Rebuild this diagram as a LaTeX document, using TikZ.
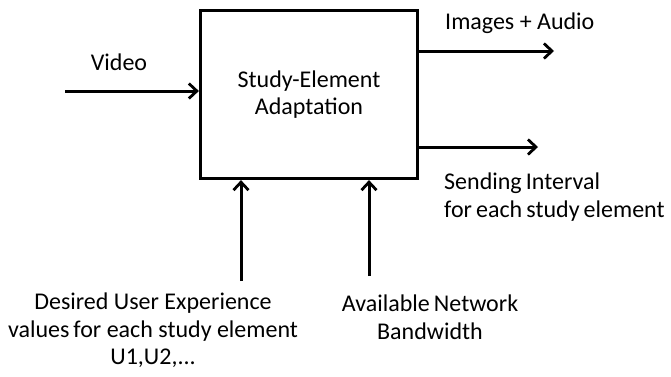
\documentclass[tikz,border=0pt]{standalone}
\usepackage{fontspec}
\setmainfont{Carlito}
\usetikzlibrary{arrows.meta}
% narrow word gap used in the output label
\newcommand\nsp{\hspace{0.17em}}
\begin{document}
\begin{tikzpicture}[x=1pt,y=-1pt,
  lbl/.style={inner sep=0pt, font=\fontsize{24}{27.5}\selectfont},
  flow/.style={line width=3pt, -{Straight Barb[length=8pt,width=15pt,line width=2.8pt]}}]
  \useasboundingbox (0,0) rectangle (671,376);
  % central process block
  \node[draw, line width=3.2pt, minimum width=217pt, minimum height=168pt,
        inner sep=0pt, align=center, lbl] (box) at (309,94.5)
        {Study-Element\\Adaptation};
  % inputs and outputs
  \coordinate (vin) at (65,91);
  \coordinate (imgout) at (554,51);
  \coordinate (sendout) at (538,147);
  \coordinate (uxin) at (241,281);
  \coordinate (bwin) at (369,276);
  \draw[flow] (vin) -- (vin -| box.west);
  \draw[flow] (box.east |- imgout) -- (imgout);
  \draw[flow] (box.east |- sendout) -- (sendout);
  \draw[flow] (uxin) -- (uxin |- box.south);
  \draw[flow] (bwin) -- (bwin |- box.south);
  % labels
  \node[lbl] (video) at (119,62) {Video};
  \node[lbl, anchor=west] (images) at (445,23) {Images + Audio};
  \node[lbl, anchor=west, align=left] (sending) at (444,197)
        {Sending\nsp Interval\\for\nsp each\nsp study\nsp element};
  \node[lbl, align=center] (ux) at (153,330.5)
        {Desired User Experience\\values\nsp for each study element\\U1,U2,...};
  \node[lbl, align=center] (bw) at (430,317)
        {Available\nsp Network\\Bandwidth};
\end{tikzpicture}
\end{document}
